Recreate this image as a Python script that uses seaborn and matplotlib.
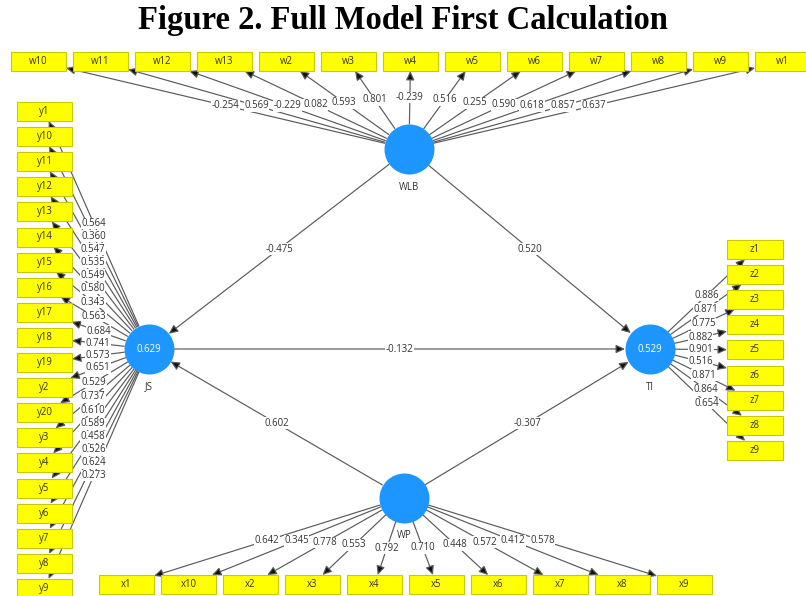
import numpy as np
import pandas as pd
import matplotlib
matplotlib.use("Agg")
import matplotlib.pyplot as plt
from matplotlib.patches import Rectangle, FancyArrowPatch
import seaborn as sns

# -------------------------------
# Data
# -------------------------------
latent_names = ["WLB", "JS", "TI", "WP"]
latent_r2 = ["", "0.629", "0.529", ""]

w_items = ["w10", "w11", "w12", "w13", "w2", "w3", "w4", "w5", "w6", "w7", "w8", "w9", "w1"]
w_loadings = [-0.254, 0.569, -0.229, 0.082, 0.593, 0.801, -0.239, 0.516, 0.255, 0.590, 0.618, 0.857, 0.637]

y_items = ["y1", "y10", "y11", "y12", "y13", "y14", "y15", "y16", "y17", "y18",
           "y19", "y2", "y20", "y3", "y4", "y5", "y6", "y7", "y8", "y9"]
y_loadings = [0.564, 0.360, 0.547, 0.535, 0.549, 0.580, 0.343, 0.563, 0.684, 0.741,
              0.573, 0.651, 0.529, 0.737, 0.610, 0.589, 0.458, 0.526, 0.624, 0.273]

z_items = ["z1", "z2", "z3", "z4", "z5", "z6", "z7", "z8", "z9"]
z_loadings = [0.886, 0.871, 0.775, 0.882, 0.901, 0.516, 0.871, 0.864, 0.654]

x_items = ["x1", "x10", "x2", "x3", "x4", "x5", "x6", "x7", "x8", "x9"]
x_loadings = [0.642, 0.345, 0.778, 0.553, 0.792, 0.710, 0.448, 0.572, 0.412, 0.578]

path_from = ["WLB", "WLB", "JS", "WP", "WP"]
path_to = ["JS", "TI", "TI", "JS", "TI"]
path_coef = [-0.475, 0.520, -0.132, 0.602, -0.307]

# -------------------------------
# Layout (pixel space, y down)
# -------------------------------
W, H = 806, 596
R = 25
latent_pos = {"WLB": (409, 149), "JS": (149, 349), "TI": (650, 349), "WP": (404, 497.5)}
BOX_W, BOX_H = 55, 19

box_pos = {}
for i, name in enumerate(w_items):
    box_pos[name] = (11 + 62 * i, 52, BOX_W, BOX_H)
for i, name in enumerate(y_items):
    box_pos[name] = (17, 102 + 25.1 * i, BOX_W, BOX_H)
for i, name in enumerate(z_items):
    box_pos[name] = (727, 240 + 25.1 * i, 56, BOX_H)
for i, name in enumerate(x_items):
    box_pos[name] = (99 + 62 * i, 575, BOX_W, BOX_H)

LINE = "#5a5a5a"
TXT = "#333333"
BLUE = "#1E96FF"
FONT = ["Open Sans", "DejaVu Sans"]
FS = 6.9

sns.set_theme(style="white")
plt.rcParams["font.family"] = FONT

fig = plt.figure(figsize=(W / 100, H / 100), dpi=100)
ax = fig.add_axes([0, 0, 1, 1])


def arrow(p0, p1, label):
    a = FancyArrowPatch(p0, p1, arrowstyle="-|>,head_length=0.9,head_width=0.42",
                        mutation_scale=6, color=LINE, lw=0.85, shrinkA=0, shrinkB=0,
                        zorder=1)
    a.set_facecolor("#111111")
    ax.add_patch(a)
    mx, my = (p0[0] + p1[0]) / 2, (p0[1] + p1[1]) / 2
    ax.text(mx, my, label, ha="center", va="center", fontsize=FS, color=TXT,
            zorder=4, bbox=dict(facecolor="white", edgecolor="none", pad=0.3))


def circle_edge(c, target):
    d = np.subtract(target, c)
    return tuple(np.add(c, d / np.hypot(*d) * R))


# measurement model: latent -> indicator boxes
blocks = [("WLB", w_items, w_loadings), ("JS", y_items, y_loadings),
          ("TI", z_items, z_loadings), ("WP", x_items, x_loadings)]
for lat, items, loads in blocks:
    c = latent_pos[lat]
    for name, val in zip(items, loads):
        x0, y0, bw, bh = box_pos[name]
        b = (x0 + bw / 2, y0 + bh / 2)
        d = np.subtract(b, c)
        s = min(bw / 2 / max(abs(d[0]), 1e-9), bh / 2 / max(abs(d[1]), 1e-9))
        end = tuple(np.subtract(b, d * s))
        arrow(circle_edge(c, b), end, f"{val:.3f}")
        ax.add_patch(Rectangle((x0, y0), bw, bh, facecolor="#FFFF00",
                               edgecolor="#C9C900", lw=0.8, zorder=3))
        ax.text(b[0], b[1], name, ha="center", va="center", fontsize=FS,
                color=TXT, zorder=5)

# structural model
for a_, b_, v in zip(path_from, path_to, path_coef):
    ca, cb = latent_pos[a_], latent_pos[b_]
    arrow(circle_edge(ca, cb), circle_edge(cb, ca), f"{v:.3f}")

# latent circles
lat_df = pd.DataFrame({"name": latent_names,
                       "x": [latent_pos[n][0] for n in latent_names],
                       "y": [latent_pos[n][1] for n in latent_names]})
sns.scatterplot(data=lat_df, x="x", y="y", s=(2 * R * 0.72) ** 2, color=BLUE,
                linewidth=0, ax=ax, zorder=6, legend=False)
ax.set_xlim(0, W)
ax.set_ylim(H, 0)
ax.axis("off")

for name, r2 in zip(latent_names, latent_r2):
    cx, cy = latent_pos[name]
    if r2:
        ax.text(cx, cy, r2, ha="center", va="center", fontsize=FS,
                color="white", zorder=7)
    ax.text(cx, cy + 38, name, ha="center", va="center", fontsize=FS,
            color=TXT, zorder=7)

fig.text(0.5, 1 - 21 / H, "Figure 2. Full Model First Calculation", ha="center",
         va="center", fontsize=23.5, fontweight="bold", family="Liberation Serif",
         color="black")

fig.savefig("out.png", dpi=100)
